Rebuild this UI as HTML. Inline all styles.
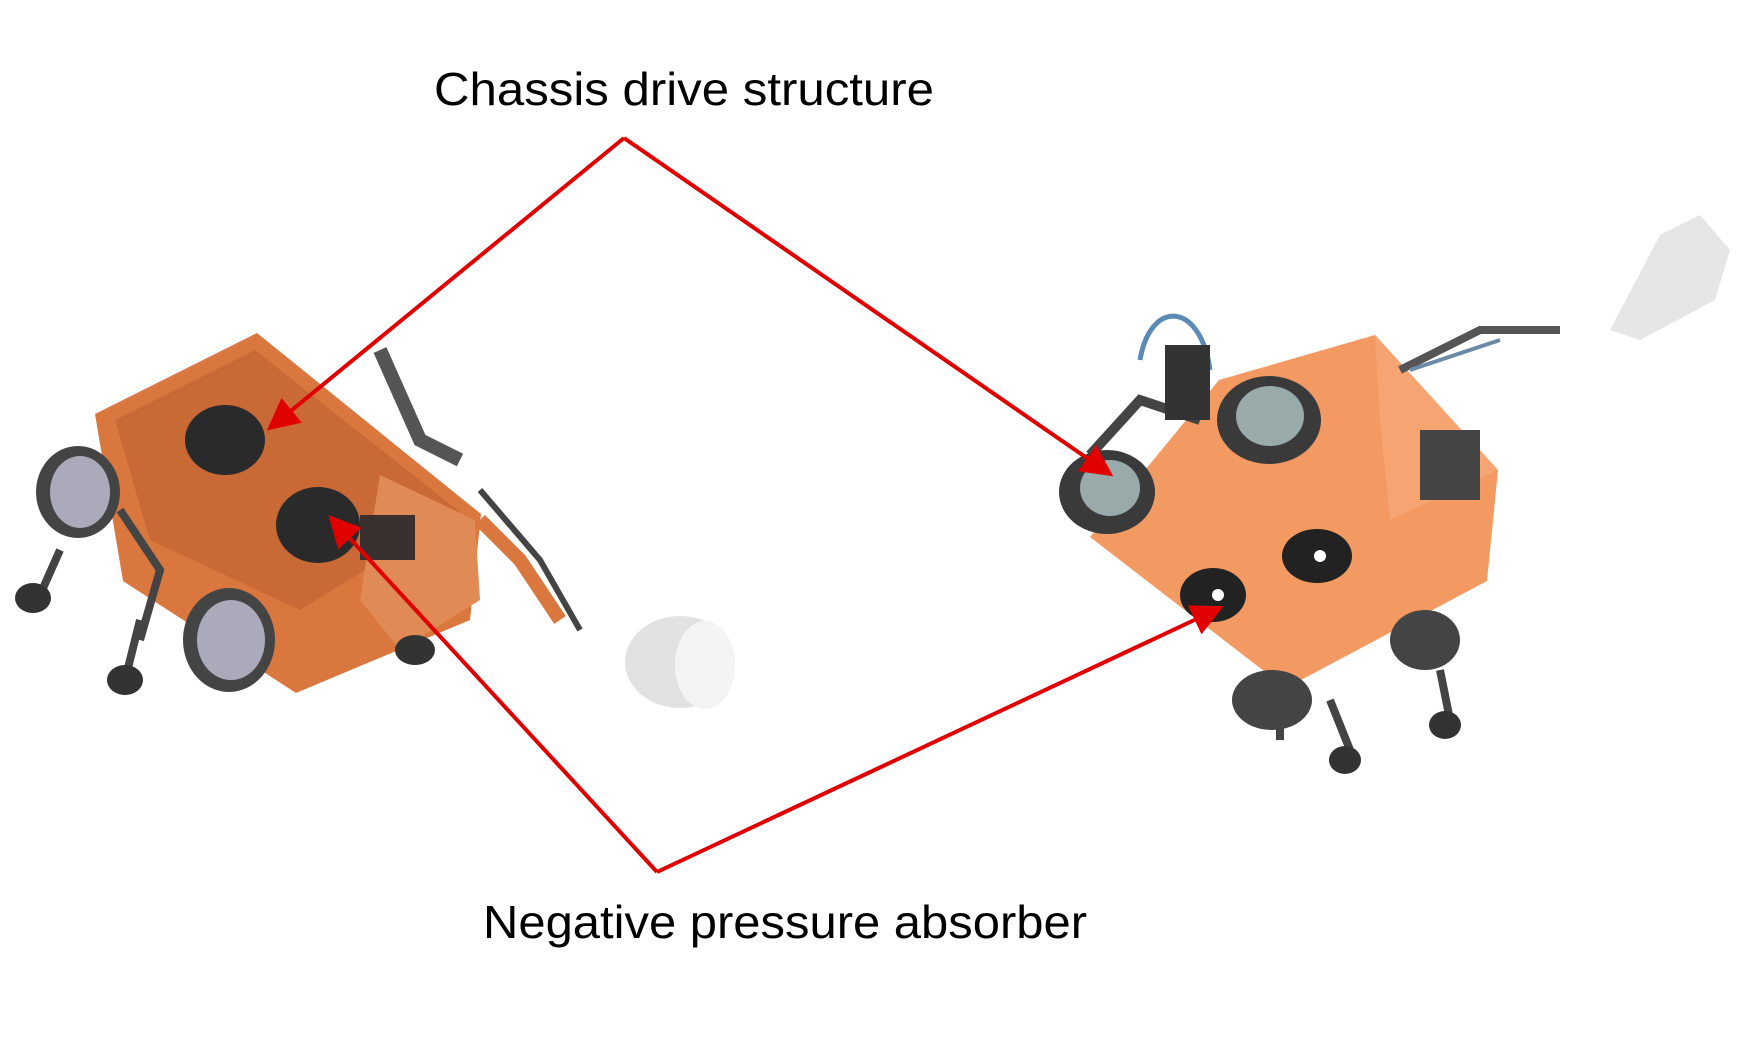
<!DOCTYPE html>
<html><head><meta charset="utf-8"><style>
html,body{margin:0;padding:0;background:#fff;}
svg{display:block}
text{font-family:"Liberation Sans",sans-serif;fill:#000}
</style></head><body>
<svg width="1753" height="1060" viewBox="0 0 1753 1060" xmlns="http://www.w3.org/2000/svg">
<defs>
<marker id="ah" markerWidth="8" markerHeight="8" refX="7" refY="4" orient="auto" markerUnits="strokeWidth">
<path d="M0,0 L8,4 L0,8 z" fill="#e00000"/></marker>
</defs>
<g>
<polygon points="95,414 257,333 481,514 470,620 296,693 123,581" fill="#d9773f"/>
<polygon points="115,420 255,350 460,512 300,610 150,540" fill="#c96a36"/>
<polygon points="380,475 475,520 480,600 400,650 360,600" fill="#e08a55"/>
<ellipse cx="225" cy="440" rx="40" ry="35" fill="#2a2a2a"/>
<ellipse cx="318" cy="525" rx="42" ry="38" fill="#2a2a2a"/>
<rect x="360" y="515" width="55" height="45" fill="#3a3030"/>
<ellipse cx="78" cy="492" rx="42" ry="46" fill="#444"/><ellipse cx="80" cy="492" rx="30" ry="36" fill="#aab"/>
<ellipse cx="229" cy="640" rx="46" ry="52" fill="#444"/><ellipse cx="231" cy="640" rx="34" ry="40" fill="#aab"/>
<path d="M120,510 L160,570 L140,640 M60,550 L40,595 M140,620 L125,680" stroke="#444" stroke-width="8" fill="none"/>
<ellipse cx="33" cy="598" rx="18" ry="15" fill="#333"/><ellipse cx="125" cy="680" rx="18" ry="15" fill="#333"/>
<path d="M380,350 L420,440 L460,460" stroke="#555" stroke-width="14" fill="none"/>
<path d="M480,520 L520,560 L560,620" stroke="#d9773f" stroke-width="14" fill="none"/>
<path d="M480,490 L540,560 L580,630" stroke="#444" stroke-width="6" fill="none"/>
<ellipse cx="680" cy="662" rx="55" ry="46" fill="#e2e2e2"/><ellipse cx="705" cy="665" rx="30" ry="44" fill="#f4f4f4"/>
<ellipse cx="415" cy="650" rx="20" ry="15" fill="#333"/>
</g>
<g>
<polygon points="1090,537 1219,380 1375,335 1498,470 1487,581 1286,688" fill="#f39a63"/>
<polygon points="1375,335 1498,470 1390,520 1380,420" fill="#f5a472"/>
<path d="M1090,455 L1140,400 L1200,420" stroke="#444" stroke-width="10" fill="none"/>
<path d="M1140,360 C1150,300 1200,300 1210,370" stroke="#5a8ab5" stroke-width="5" fill="none"/>
<path d="M1400,370 L1480,330 L1560,330" stroke="#555" stroke-width="8" fill="none"/>
<path d="M1410,370 L1500,340" stroke="#6a8aa5" stroke-width="4"/>
<polygon points="1610,330 1660,235 1700,215 1730,250 1715,300 1640,340" fill="#e6e6e6"/>
<rect x="1420" y="430" width="60" height="70" fill="#444"/>
<ellipse cx="1107" cy="492" rx="48" ry="42" fill="#3a3a3a"/><ellipse cx="1110" cy="488" rx="30" ry="28" fill="#9aa"/>
<ellipse cx="1269" cy="420" rx="52" ry="44" fill="#3a3a3a"/><ellipse cx="1270" cy="416" rx="34" ry="30" fill="#9aa"/>
<rect x="1165" y="345" width="45" height="75" fill="#333"/>
<ellipse cx="1213" cy="595" rx="33" ry="27" fill="#222"/><circle cx="1218" cy="595" r="6" fill="#fff"/>
<ellipse cx="1317" cy="556" rx="35" ry="27" fill="#222"/><circle cx="1320" cy="556" r="6" fill="#fff"/>
<ellipse cx="1272" cy="700" rx="40" ry="30" fill="#444"/>
<ellipse cx="1425" cy="640" rx="35" ry="30" fill="#444"/>
<path d="M1330,700 L1350,750 M1440,670 L1450,720 M1280,720 L1280,740" stroke="#444" stroke-width="8"/>
<ellipse cx="1345" cy="760" rx="16" ry="14" fill="#333"/><ellipse cx="1445" cy="725" rx="16" ry="14" fill="#333"/>
</g>
<text x="434" y="105" font-size="46" textLength="500" lengthAdjust="spacingAndGlyphs">Chassis drive structure</text>
<text x="483" y="938" font-size="46" textLength="604" lengthAdjust="spacingAndGlyphs">Negative pressure absorber</text>
<g stroke="#e00000" stroke-width="4" fill="none">
<line x1="624" y1="138" x2="270" y2="428" marker-end="url(#ah)"/>
<line x1="624" y1="138" x2="1110" y2="474" marker-end="url(#ah)"/>
<line x1="657" y1="872" x2="331" y2="518" marker-end="url(#ah)"/>
<line x1="657" y1="872" x2="1220" y2="608" marker-end="url(#ah)"/>
</g>
</svg>
</body></html>
